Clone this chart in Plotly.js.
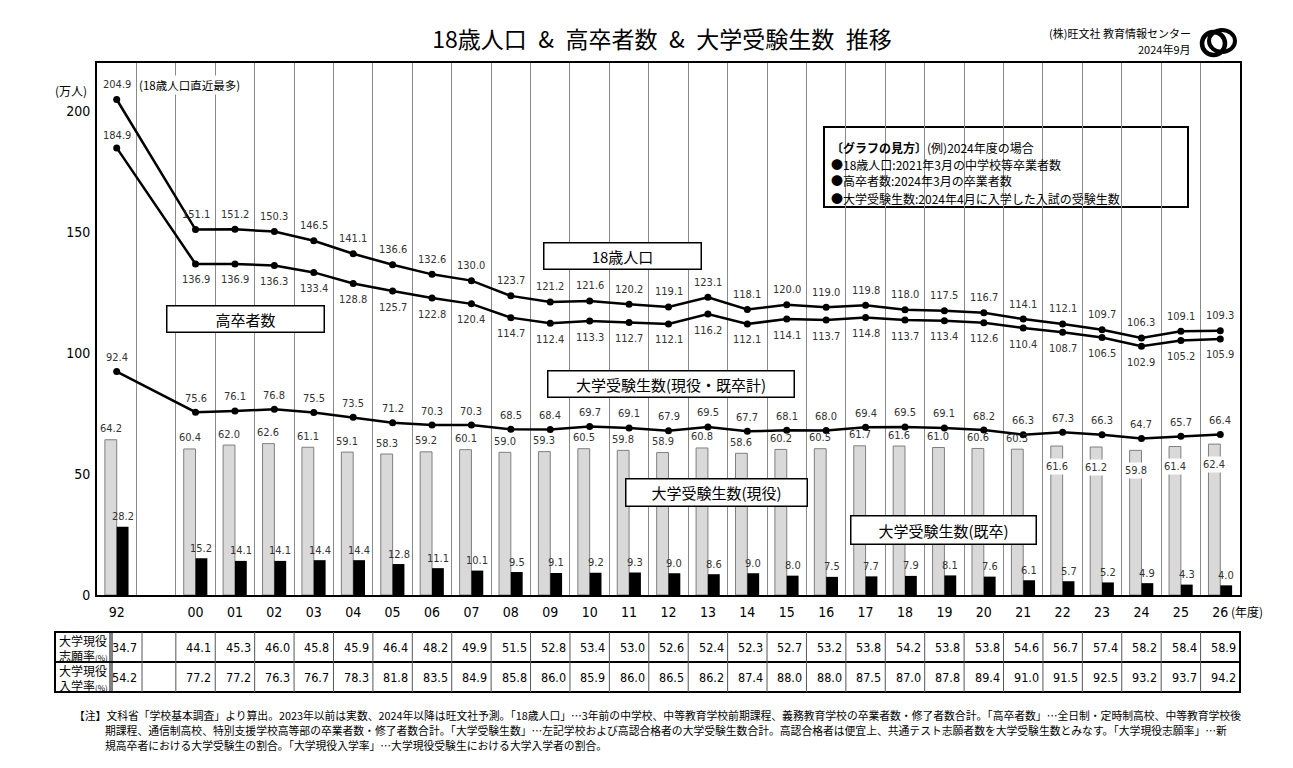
<!DOCTYPE html>
<html><head><meta charset="utf-8">
<script src="https://cdn.plot.ly/plotly-3.0.1.min.js"></script>
<style>html,body{margin:0;padding:0;background:#fff;}#chart{width:1293px;height:768px;}</style>
</head><body><div id="chart"></div>
<script>
// ---- data ----
const years = ['92','00','01','02','03','04','05','06','07','08','09','10','11','12','13','14','15','16','17','18','19','20','21','22','23','24','25','26'];
const pop18 = [204.9,151.1,151.2,150.3,146.5,141.1,136.6,132.6,130.0,123.7,121.2,121.6,120.2,119.1,123.1,118.1,120.0,119.0,119.8,118.0,117.5,116.7,114.1,112.1,109.7,106.3,109.1,109.3];
const grads = [184.9,136.9,136.9,136.3,133.4,128.8,125.7,122.8,120.4,114.7,112.4,113.3,112.7,112.1,116.2,112.1,114.1,113.7,114.8,113.7,113.4,112.6,110.4,108.7,106.5,102.9,105.2,105.9];
const applTotal = [92.4,75.6,76.1,76.8,75.5,73.5,71.2,70.3,70.3,68.5,68.4,69.7,69.1,67.9,69.5,67.7,68.1,68.0,69.4,69.5,69.1,68.2,66.3,67.3,66.3,64.7,65.7,66.4];
const applCurrent = [64.2,60.4,62.0,62.6,61.1,59.1,58.3,59.2,60.1,59.0,59.3,60.5,59.8,58.9,60.8,58.6,60.2,60.5,61.7,61.6,61.0,60.6,60.3,61.6,61.2,59.8,61.4,62.4];
const applRepeat = [28.2,15.2,14.1,14.1,14.4,14.4,12.8,11.1,10.1,9.5,9.1,9.2,9.3,9.0,8.6,9.0,8.0,7.5,7.7,7.9,8.1,7.6,6.1,5.7,5.2,4.9,4.3,4.0];
const applyRate = [34.7,44.1,45.3,46.0,45.8,45.9,46.4,48.2,49.9,51.5,52.8,53.4,53.0,52.6,52.4,52.3,52.7,53.2,53.8,54.2,53.8,53.8,54.6,56.7,57.4,58.2,58.4,58.9];
const enrollRate = [54.2,77.2,77.2,76.3,76.7,78.3,81.8,83.5,84.9,85.8,86.0,85.9,86.0,86.5,86.2,87.4,88.0,88.0,87.5,87.0,87.8,89.4,91.0,91.5,92.5,93.2,93.7,94.2];
const rowLabels = [['大学現役','志願率<span style="font-size:8px">(%)</span>'],['大学現役','入学率<span style="font-size:8px">(%)</span>']];
const insideFrom = '22'; // 現役 labels drawn inside bars from this year on

// ---- layout helpers ----
const NUM = 'Liberation Sans Narrow, DejaVu Sans Condensed, Noto Sans CJK JP, sans-serif';
const JP = 'Noto Sans CJK JP, sans-serif';
const L = 97, R = 1240, T = 63, B = 595;
const px = v => (v - L) / (R - L);
const py = v => (B - v) / (B - T);
// slot on the axis: one empty slot between 92 and 00
const slots = years.map((y, i) => i === 0 ? 0 : i + 1);
const nSlots = slots[slots.length - 1] + 1;

const traces = [
  {type:'bar', x:slots, y:applCurrent, width:0.3, offset:-0.3, marker:{color:'#d9d9d9', line:{color:'#7f7f7f', width:1}}, hoverinfo:'skip'},
  {type:'bar', x:slots, y:applRepeat, width:0.3, offset:0, marker:{color:'#000', line:{width:0}}, hoverinfo:'skip'},
  {type:'scatter', mode:'lines+markers', x:slots, y:pop18, line:{color:'#000', width:2.5}, marker:{color:'#000', size:7}, hoverinfo:'skip'},
  {type:'scatter', mode:'lines+markers', x:slots, y:grads, line:{color:'#000', width:2.5}, marker:{color:'#000', size:7}, hoverinfo:'skip'},
  {type:'scatter', mode:'lines+markers', x:slots, y:applTotal, line:{color:'#000', width:2.5}, marker:{color:'#000', size:7}, hoverinfo:'skip'}
];

const ann = [];
const lab = (x, y, text, yshift, extra) => ann.push(Object.assign({x, y, xref:'x', yref:'y', xanchor:'center', yanchor:'middle', text, showarrow:false, yshift, font:{family:NUM, size:11, color:'#333'}}, extra || {}));
// paper-positioned text (explicit anchors)
const ptxt = (x, y, text, font, extra) => ann.push(Object.assign({x, y, xref:'paper', yref:'paper', xanchor:'left', yanchor:'middle', text, showarrow:false, font}, extra || {}));

years.forEach((yr, i) => {
  const s = slots[i];
  lab(s, pop18[i], pop18[i].toFixed(1), 15);
  lab(s, grads[i], grads[i].toFixed(1), i === 0 ? 12 : -16);
  lab(s, applTotal[i], applTotal[i].toFixed(1), 14);
  const inside = i >= years.indexOf(insideFrom);
  lab(s - 0.15, applCurrent[i], applCurrent[i].toFixed(1), inside ? -20 : 11, inside ? {bgcolor:'#fff', borderpad:1} : {});
  lab(s + 0.15, applRepeat[i], applRepeat[i].toFixed(1), 10);
  // table values (first column sits a little to the right of its slot edge)
  const xs = i === 0 ? 3 : -2;
  ann.push({x:s + 0.5, y:py(647), xref:'x', yref:'paper', xanchor:'right', yanchor:'middle', xshift:xs, text:applyRate[i].toFixed(1), showarrow:false, font:{family:NUM, size:12.5, color:'#000'}});
  ann.push({x:s + 0.5, y:py(677), xref:'x', yref:'paper', xanchor:'right', yanchor:'middle', xshift:xs, text:enrollRate[i].toFixed(1), showarrow:false, font:{family:NUM, size:12.5, color:'#000'}});
});

// 18歳人口直近最多 note
ann.push({x:slots[0], y:pop18[0], xref:'x', yref:'y', xanchor:'left', yanchor:'middle', xshift:20, yshift:15, text:'(18歳人口直近最多)', showarrow:false, bgcolor:'#fff', font:{family:JP, size:11.5, color:'#000'}});

// series label boxes
const box = (cx, cy, w, h, text) => ann.push({x:px(cx), y:py(cy), xref:'paper', yref:'paper', xanchor:'center', yanchor:'middle', text, showarrow:false, width:w, height:h, bgcolor:'#fff', bordercolor:'#000', borderwidth:1.5, borderpad:0, font:{family:JP, size:15, color:'#000'}});
box(622, 256, 156, 25, '18歳人口');
box(245, 319, 156, 25, '高卒者数');
box(671, 384, 245, 25, '大学受験生数(現役・既卒計)');
box(716, 492, 180, 26, '大学受験生数(現役)');
box(943, 530, 184, 27, '大学受験生数(既卒)');

// explanation box
const exLines = ['<b>〔グラフの見方〕</b>(例)2024年度の場合','●18歳人口:2021年3月の中学校等卒業者数','●高卒者数:2024年3月の卒業者数','●大学受験生数:2024年4月に入学した入試の受験生数'];
[147,164,181,198].forEach((yy, k) => ptxt(px(829), py(yy), exLines[k], {family:JP, size:12, color:'#000'}));

// misc texts
ptxt(px(89), py(90), '(万人)', {family:JP, size:12, color:'#000'}, {xanchor:'right'});
ann.push({x:slots[slots.length-1], y:py(611), xref:'x', yref:'paper', xanchor:'left', yanchor:'middle', xshift:9, text:'(年度)', showarrow:false, font:{family:JP, size:12, color:'#000'}});
ptxt(px(1193), py(33), '(株)旺文社 教育情報センター', {family:JP, size:11, color:'#000'}, {xanchor:'right'});
ptxt(px(1193), py(49), '2024年9月', {family:JP, size:11, color:'#000'}, {xanchor:'right'});

// table row headers
rowLabels.forEach((pair, k) => {
  ptxt(px(57), py(640 + 30*k), pair[0], {family:JP, size:12, color:'#000'});
  ptxt(px(57), py(655 + 30*k), pair[1], {family:JP, size:12, color:'#000'});
});

// footnote
const notes = ['【注】文科省「学校基本調査」より算出。2023年以前は実数、2024年以降は旺文社予測。「18歳人口」…3年前の中学校、中等教育学校前期課程、義務教育学校の卒業者数・修了者数合計。「高卒者数」…全日制・定時制高校、中等教育学校後',
  '期課程、通信制高校、特別支援学校高等部の卒業者数・修了者数合計。「大学受験生数」…左記学校および高認合格者の大学受験生数合計。高認合格者は便宜上、共通テスト志願者数を大学受験生数とみなす。「大学現役志願率」…新',
  '規高卒者における大学受験生の割合。「大学現役入学率」…大学現役受験生における大学入学者の割合。'];
notes.forEach((t, k) => ptxt(px(k === 0 ? 72 : 103), py(715 + 15*k), t, {family:JP, size:10.8, color:'#000'}));

// shapes: table grid, explanation box, logo
const shapes = [];
const tTop = py(632), tMid = py(662), tBot = py(692);
shapes.push({type:'rect', xref:'paper', yref:'paper', x0:px(55), x1:1, y0:tBot, y1:tTop, line:{color:'#000', width:2}});
shapes.push({type:'line', xref:'paper', yref:'paper', x0:px(55), x1:1, y0:tMid, y1:tMid, line:{color:'#000', width:2}});
shapes.push({type:'line', xref:'paper', yref:'paper', x0:px(110), x1:px(110), y0:tBot, y1:tTop, line:{color:'#000', width:1}});
shapes.push({type:'line', xref:'paper', yref:'paper', x0:px(112), x1:px(112), y0:tBot, y1:tTop, line:{color:'#000', width:1}});
shapes.push({type:'line', xref:'paper', yref:'paper', x0:px(142), x1:px(142), y0:tBot, y1:tTop, line:{color:'#555', width:1}});
for (let s = 2; s < nSlots; s++) {
  shapes.push({type:'line', xref:'x', yref:'paper', x0:s - 0.5, x1:s - 0.5, y0:tBot, y1:tTop, line:{color:'#555', width:1}});
}
shapes.push({type:'rect', xref:'paper', yref:'paper', x0:px(824), x1:px(1188), y0:py(207), y1:py(127), fillcolor:'#fff', line:{color:'#000', width:2}, layer:'below'});
// logo
shapes.push({type:'circle', xref:'paper', yref:'paper', x0:px(1202), x1:px(1225), y0:py(55), y1:py(32), line:{color:'#000', width:4.5}});
shapes.push({type:'circle', xref:'paper', yref:'paper', x0:px(1209), x1:px(1235), y0:py(52), y1:py(30), line:{color:'#000', width:4}});

const halfTicks = [];
for (let s = 0; s < nSlots - 1; s++) halfTicks.push(s + 0.5);

const layout = {
  width:1293, height:768,
  margin:{l:L, r:1293 - R, t:T, b:768 - B, pad:0},
  paper_bgcolor:'#fff', plot_bgcolor:'#fff',
  showlegend:false,
  barmode:'overlay',
  title:{text:'18歳人口\u2002&\u2002高卒者数\u2002&\u2002大学受験生数\u2002推移', x:662/1293, xanchor:'center', y:1 - 40/768, yanchor:'middle', font:{family:JP, size:23, color:'#000'}},
  xaxis:{range:[-0.5, nSlots - 0.5], tickmode:'array', tickvals:slots, ticktext:years, showgrid:false, zeroline:false,
    showline:true, linecolor:'#000', linewidth:2, mirror:true, ticks:'', ticklabelstandoff:3,
    tickfont:{family:NUM, size:14, color:'#000'},
    minor:{tickmode:'array', tickvals:halfTicks, showgrid:true, gridcolor:'#8a8a8a', gridwidth:1, ticks:''}},
  yaxis:{range:[0, 220], tickmode:'array', tickvals:[0,50,100,150,200], showgrid:false, zeroline:false,
    showline:true, linecolor:'#000', linewidth:2, mirror:true, ticks:'', ticklabelstandoff:2,
    tickfont:{family:NUM, size:14, color:'#000'}},
  annotations:ann,
  shapes:shapes
};
Plotly.newPlot('chart', traces, layout, {staticPlot:true, displayModeBar:false});
</script></body></html>
